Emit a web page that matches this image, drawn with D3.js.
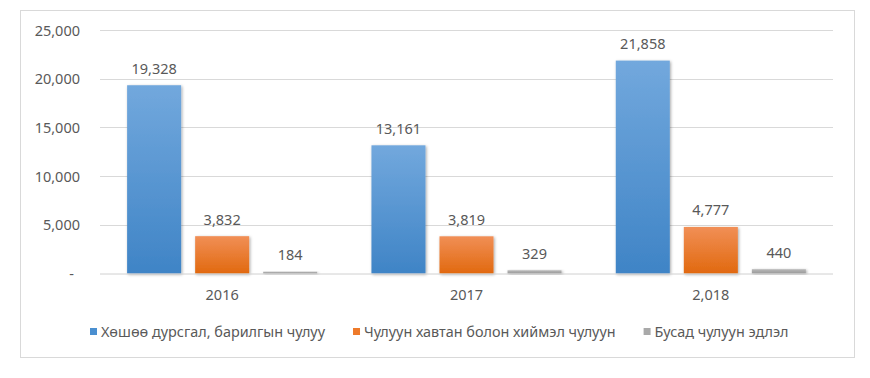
<!DOCTYPE html>
<html>
<head>
<meta charset="utf-8">
<script src="https://cdn.jsdelivr.net/npm/d3@7"></script>
<style>
  body { margin: 0; background: #fff; }
  svg { display: block; }
  svg text { font-family: "Noto Sans", "Open Sans", sans-serif; fill: #595959; }
</style>
</head>
<body>
<div id="chart"></div>
<script>
// Data
const years = ["2016", "2017", "2,018"];
const seriesNames = [
  "Хөшөө дурсгал, барилгын чулуу",
  "Чулуун хавтан болон хиймэл чулуун",
  "Бусад чулуун эдлэл"
];
const monumentStone = [19328, 13161, 21858];
const stoneSlabs = [3832, 3819, 4777];
const otherStone = [184, 329, 440];
const yTicks = [0, 5000, 10000, 15000, 20000, 25000];

// Size
const width = 870,
    height = 378,
    margin = { top: 30, left: 100, bottom: 104.5, right: 37 },
    innerWidth = width - margin.left - margin.right,
    innerHeight = height - margin.top - margin.bottom;

const gradients = [
  { id: "gBlue", top: "#72a8dd", bottom: "#3f84c6" },
  { id: "gOrange", top: "#f18f56", bottom: "#e1690f" },
  { id: "gGray", top: "#b8b8b8", bottom: "#9a9a9a" }
];
const legendColors = ["#4a8fd0", "#ee7a2a", "#a9a9a9"];

const svg = d3.select("#chart").append("svg")
    .attr("width", width)
    .attr("height", height);

const defs = svg.append("defs");

gradients.forEach(d => {
  const lg = defs.append("linearGradient")
      .attr("id", d.id)
      .attr("x1", 0).attr("y1", 0).attr("x2", 0).attr("y2", 1);
  lg.append("stop").attr("offset", "0%").attr("stop-color", d.top);
  lg.append("stop").attr("offset", "100%").attr("stop-color", d.bottom);
});

defs.append("filter")
    .attr("id", "shadow")
    .attr("x", "-30%").attr("y", "-30%").attr("width", "160%").attr("height", "160%")
  .append("feDropShadow")
    .attr("dx", 1).attr("dy", 1)
    .attr("stdDeviation", 1.6)
    .attr("flood-color", "#000")
    .attr("flood-opacity", 0.35);

// Frame
svg.append("rect")
    .attr("x", 20.5).attr("y", 10.5)
    .attr("width", 834).attr("height", 347)
    .style("fill", "#fff")
    .style("stroke", "#d9d9d9");

const g = svg.append("g")
    .attr("transform", "translate(" + margin.left + "," + margin.top + ")");

// Scales
const yScale = d3.scaleLinear()
    .domain([0, 25000])
    .range([innerHeight, 0]);

const x0 = d3.scaleBand()
    .domain(years)
    .range([0, innerWidth])
    .paddingInner(0.222)
    .paddingOuter(0.111);

const x1 = d3.scaleBand()
    .domain(d3.range(seriesNames.length))
    .range([0, x0.bandwidth()])
    .paddingInner(0.206);

// Gridlines
g.append("g").attr("class", "grid")
  .selectAll("line")
    .data(yTicks.slice(1))
  .enter().append("line")
    .attr("x1", 0).attr("x2", innerWidth)
    .attr("y1", d => Math.round(yScale(d)) + 0.5)
    .attr("y2", d => Math.round(yScale(d)) + 0.5)
    .style("stroke", "#d9d9d9");

// Y labels
const fmt = d3.format(",");
g.append("g").attr("class", "yAxis")
  .selectAll("text")
    .data(yTicks)
  .enter().append("text")
    .attr("x", d => d === 0 ? -26 : -20)
    .attr("y", d => yScale(d) + 5.5)
    .attr("text-anchor", "end")
    .style("font-size", "14.5px")
    .text(d => d === 0 ? "-" : fmt(d));

// Bars
const seriesData = [monumentStone, stoneSlabs, otherStone];
const barGroups = g.append("g").attr("class", "chart")
  .selectAll(".year")
    .data(years)
  .enter().append("g")
    .attr("class", "year")
    .attr("transform", d => "translate(" + x0(d) + ",0)");

barGroups.selectAll("rect")
    .data((d, i) => seriesData.map((s, j) => ({ series: j, value: s[i] })))
  .enter().append("rect")
    .attr("x", d => x1(d.series))
    .attr("width", x1.bandwidth())
    .attr("y", d => yScale(d.value))
    .attr("height", d => innerHeight - yScale(d.value))
    .attr("filter", "url(#shadow)")
    .style("fill", d => "url(#" + gradients[d.series].id + ")");

barGroups.selectAll(".label")
    .data((d, i) => seriesData.map((s, j) => ({ series: j, value: s[i] })))
  .enter().append("text")
    .attr("class", "label")
    .attr("x", d => x1(d.series) + x1.bandwidth() / 2)
    .attr("y", d => yScale(d.value) - 11.5)
    .attr("text-anchor", "middle")
    .style("font-size", "14.5px")
    .text(d => fmt(d.value));

// X axis line
g.append("line")
    .attr("x1", 0).attr("x2", innerWidth)
    .attr("y1", innerHeight + 0.5).attr("y2", innerHeight + 0.5)
    .style("stroke", "#d0d0d0");

g.append("g").attr("class", "xAxis")
  .selectAll("text")
    .data(years)
  .enter().append("text")
    .attr("x", d => x0(d) + x0.bandwidth() / 2)
    .attr("y", innerHeight + 26.5)
    .attr("text-anchor", "middle")
    .style("font-size", "14.5px")
    .text(d => d);

// Legend
const legend = svg.append("g").attr("class", "legend");
let lx = 90;
seriesNames.forEach((name, i) => {
  legend.append("rect")
      .attr("x", lx).attr("y", 328)
      .attr("width", 7).attr("height", 7)
      .style("fill", legendColors[i]);
  const t = legend.append("text")
      .attr("x", lx + 11)
      .attr("y", 337)
      .style("font-size", "14.4px")
      .text(name);
  lx += 11 + t.node().getComputedTextLength() + 28;
});
</script>
</body>
</html>
